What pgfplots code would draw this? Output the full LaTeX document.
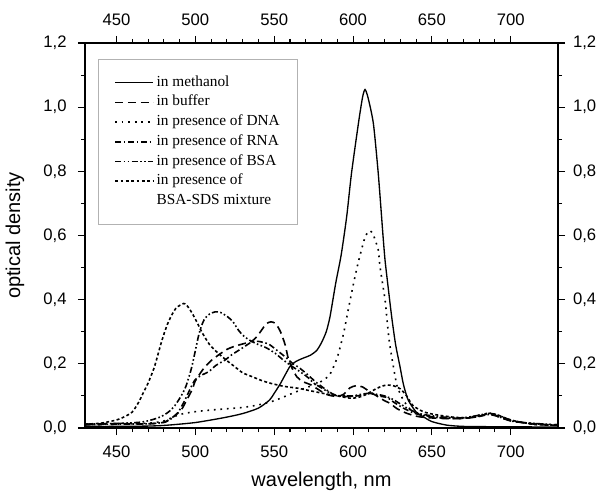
\documentclass[border=0pt]{standalone}
\usepackage{fontspec}
\setmainfont{Liberation Serif}
\newfontfamily\arialf{Liberation Sans}
\usepackage{pgfplots}
\pgfplotsset{compat=1.18}

\pgfplotstableread{
x y
430 0.005
450 0.005
470 0.006
480 0.008
490 0.012
500 0.017
510 0.025
520 0.034
530 0.045
540 0.062
547 0.087
550 0.108
554 0.139
560 0.192
564 0.208
568 0.217
573 0.227
577 0.242
580 0.266
583 0.300
585.4 0.347
589 0.451
592.5 0.540
596 0.660
599 0.793
603.4 0.949
606 1.030
607.6 1.055
609.5 1.030
612.9 0.949
616 0.793
619 0.600
620.3 0.523
622 0.450
624.5 0.347
627 0.260
629.8 0.191
632 0.135
635 0.087
640 0.050
644.6 0.035
650 0.020
659.4 0.009
670 0.005
690 0.004
730 0.003
}\methanol

\pgfplotstableread{
x y
430 0.012
450 0.014
470 0.013
480 0.018
486 0.035
491 0.056
494.5 0.087
498 0.120
499.8 0.145
503 0.170
506 0.190
510 0.210
514.5 0.227
520 0.245
525 0.255
530 0.262
535.7 0.270
539 0.285
542 0.305
545 0.325
548 0.331
551 0.325
554 0.300
556.9 0.260
559 0.215
561 0.190
564.3 0.160
568 0.145
573 0.135
578 0.120
583 0.105
589.6 0.098
594 0.105
598 0.125
602 0.132
606 0.128
610 0.115
615 0.100
620 0.085
623.4 0.077
628 0.060
634 0.046
642 0.035
655 0.030
670 0.030
680 0.037
686 0.044
692 0.037
700 0.023
715 0.012
730 0.008
}\buffer

\pgfplotstableread{
x y
430 0.010
450 0.012
470 0.015
480 0.022
490 0.042
500 0.051
510 0.056
520 0.060
530 0.064
540 0.072
550 0.085
560 0.105
570 0.125
578 0.140
585 0.165
590 0.220
594 0.295
597 0.370
600.3 0.450
603 0.510
605.6 0.560
608 0.600
610.8 0.615
613 0.600
616 0.555
617.1 0.503
620.3 0.400
621.3 0.350
623 0.270
625.6 0.191
628 0.130
631.9 0.087
636 0.060
640.4 0.046
650 0.035
660 0.030
670 0.030
680 0.040
686 0.045
692 0.035
700 0.022
710 0.015
730 0.010
}\dna

\pgfplotstableread{
x y
430 0.010
450 0.012
470 0.013
480.7 0.018
485 0.030
489.2 0.050
493.4 0.087
497 0.125
499.8 0.150
504 0.165
508.3 0.175
513 0.195
518.9 0.212
523 0.228
529.4 0.248
535.7 0.268
540 0.270
546.3 0.262
551 0.245
556.9 0.222
562 0.200
565.3 0.190
570.8 0.168
576 0.145
581.3 0.125
587.5 0.105
592 0.100
597 0.098
602.5 0.100
608 0.104
611 0.108
616 0.100
621.6 0.095
626 0.080
631.9 0.062
637 0.050
642.4 0.041
655 0.032
670 0.030
680 0.036
686 0.042
692 0.036
700 0.022
715 0.013
730 0.009
}\rna

\pgfplotstableread{
x y
430 0.012
450 0.014
465 0.018
472 0.025
478 0.035
483 0.050
487 0.070
491 0.100
494 0.130
497.7 0.190
501.9 0.285
504 0.320
506.1 0.342
509 0.355
512.5 0.362
516 0.360
520.9 0.345
524 0.330
527.3 0.305
531 0.285
535.7 0.270
540 0.260
545 0.250
550.6 0.233
555 0.215
559 0.200
565 0.180
570.8 0.160
575 0.140
580 0.125
585 0.110
590 0.100
595 0.100
600 0.100
605 0.105
610 0.108
615 0.105
620 0.100
625 0.090
630 0.075
635 0.060
642 0.045
650 0.038
660 0.033
670 0.032
680 0.040
686 0.046
692 0.040
700 0.025
710 0.016
730 0.010
}\bsa

\pgfplotstableread{
x y
430 0.012
440 0.015
450 0.025
455 0.035
460 0.050
464 0.080
467 0.110
470 0.140
474 0.190
478.6 0.270
482 0.320
485 0.352
488 0.375
492.5 0.388
494.5 0.383
497.7 0.360
501 0.330
504 0.300
509 0.260
514.5 0.233
520 0.210
525 0.191
530 0.172
536 0.160
542 0.148
548 0.139
556 0.130
565 0.124
572 0.117
581 0.108
590 0.100
598 0.093
603 0.095
608 0.104
613 0.118
618 0.130
622 0.134
626 0.131
630 0.122
634 0.100
638 0.070
645 0.050
653 0.041
665 0.033
675 0.032
682 0.040
687 0.046
692 0.040
700 0.025
710 0.015
717 0.010
730 0.009
}\bsasds

\begin{document}
\begin{tikzpicture}
\useasboundingbox (-63.75pt,-48.75pt) rectangle (384.75pt,321pt);
\pgfplotsset{
 common/.style={
  width=354.75pt, height=288.75pt, scale only axis,
  xmin=430, xmax=730, ymin=0, ymax=1.2,
  xtick={450,500,550,600,650,700},
  ytick={0,0.2,0.4,0.6,0.8,1.0,1.2},
  minor x tick num=4, minor y tick num=1,
  tick align=outside,
  major tick length=5.25pt, minor tick length=3pt,
  tick style={black, line width=0.8pt},
  axis line style={line width=0.8pt},
  tick label style={font=\arialf\fontsize{12.5}{14}\selectfont},
  xticklabel shift=4.5pt,
  /pgf/number format/assume math mode=true,
  yticklabel style={/pgf/number format/.cd, fixed, fixed zerofill, precision=1, use comma},
  xticklabel style={/pgf/number format/.cd, fixed, 1000 sep={}},
 }
}
\begin{axis}[common,
  xtick pos=both, ytick pos=both,
  xticklabel pos=lower, yticklabel pos=left,
  yticklabel shift=5pt,
  xlabel={wavelength, nm}, ylabel={optical density},
  xlabel style={font=\arialf\fontsize{15}{18}\selectfont, at={(axis description cs:0.5,-0.1395)}, anchor=center},
  ylabel style={font=\arialf\fontsize{15}{18}\selectfont, at={(axis description cs:-0.148,0.5)}, anchor=center},
  legend style={at={(axis description cs:0.0275,0.958)}, anchor=north west,
    draw=gray!60, line width=0.6pt, font=\fontsize{11.5}{13}\selectfont,
    inner xsep=12pt, inner ysep=11pt, row sep=2.3pt, column sep=1pt,
    nodes={inner sep=1pt, text height=8pt, text depth=2.5pt}},
  legend cell align=left,
  legend image code/.code={\draw[#1] (0pt,0pt) -- (28.5pt,0pt);},
  every axis plot/.append style={black, smooth, tension=0.4},
]
\addplot[line width=1pt] table {\methanol};
\addlegendentry{in methanol}
\addplot[line width=1.2pt, dash pattern=on 6pt off 3.5pt] table {\buffer};
\addlegendentry{in buffer}
\addplot[line width=1.2pt, dash pattern=on 1.3pt off 3.6pt] table {\dna};
\addlegendentry{in presence of DNA}
\addplot[line width=1.2pt, dash pattern=on 4.5pt off 2pt on 1.2pt off 2pt] table {\rna};
\addlegendentry{in presence of RNA}
\addplot[line width=1.2pt, dash pattern=on 4.5pt off 1.8pt on 1.2pt off 1.8pt on 1.2pt off 1.8pt] table {\bsa};
\addlegendentry{in presence of BSA}
\addplot[line width=1.2pt, dash pattern=on 2.2pt off 1.8pt] table {\bsasds};
\addlegendentry{in presence of}
\addlegendimage{empty legend}
\addlegendentry{BSA-SDS mixture}
\end{axis}
\begin{axis}[common,
  xtick pos=both, ytick pos=both,
  xticklabel pos=upper, yticklabel pos=right,
  yticklabel shift=2.5pt,
  axis line style={draw=none},
  tick style={draw=none},
]
\end{axis}
\end{tikzpicture}
\end{document}
